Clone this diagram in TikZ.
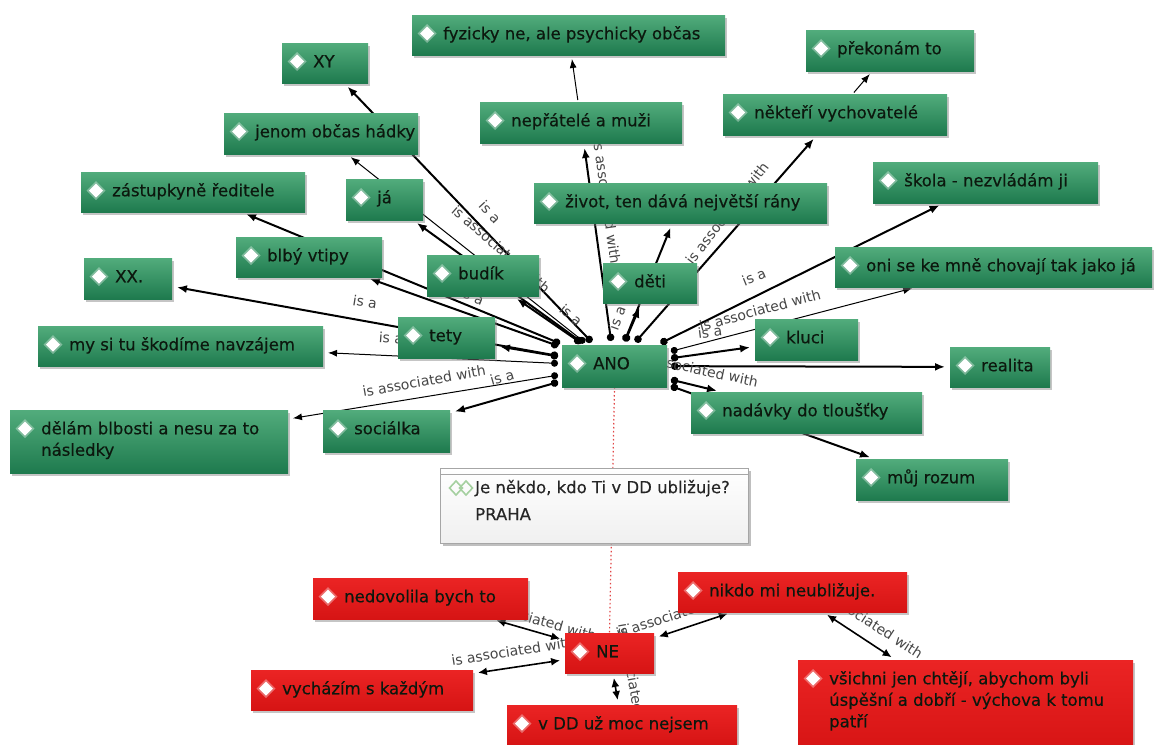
\documentclass[tikz,border=0pt]{standalone}
\usepackage{fontspec}
\setmainfont{DejaVu Sans}
\newfontfamily\boxfont[FakeBold=0.35]{DejaVu Sans}
\usetikzlibrary{arrows.meta,shadows}
\definecolor{gtop}{RGB}{82,172,124}
\definecolor{gbot}{RGB}{30,122,78}
\definecolor{rtop}{RGB}{235,36,36}
\definecolor{rbot}{RGB}{214,20,20}
\definecolor{boxtxt}{RGB}{12,24,14}
\definecolor{labgray}{RGB}{70,70,70}
\definecolor{dotred}{RGB}{225,70,70}
\definecolor{qgreen}{RGB}{165,208,160}
\pgfdeclarelayer{bg}
\pgfdeclarelayer{edges}
\pgfsetlayers{bg,edges,main}
\tikzset{
  boxbase/.style={rectangle, inner sep=0pt, outer sep=0pt,
    drop shadow={shadow xshift=1.5pt, shadow yshift=-2.5pt, opacity=0.45},
    path picture={
      \fill[white,opacity=0.35] ([shift={(15pt,-18.5pt)}]path picture bounding box.north west) +(-9.5pt,0) -- +(0,9.5pt) -- +(9.5pt,0) -- +(0,-9.5pt) -- cycle;
      \fill[white] ([shift={(15pt,-18.5pt)}]path picture bounding box.north west) +(-7pt,0) -- +(0,7pt) -- +(7pt,0) -- +(0,-7pt) -- cycle;
    }},
  gbox/.style={boxbase, top color=gtop, bottom color=gbot},
  rbox/.style={boxbase, top color=rtop, bottom color=rbot},
  txt/.style={anchor=north west, inner sep=0pt, xshift=31pt, yshift=-9pt, align=left,
    font=\boxfont\fontsize{16.5}{21.5}\selectfont, text=boxtxt},
  qbox/.style={rectangle, inner sep=0pt, outer sep=0pt, draw=black!35, line width=0.8pt,
    top color=white, bottom color=black!6,
    drop shadow={shadow xshift=2.5pt, shadow yshift=-3pt, opacity=0.5},
    path picture={
      \draw[black!35, line width=0.8pt] ([yshift=-6pt]path picture bounding box.north west) -- ([yshift=-6pt]path picture bounding box.north east);
      \draw[qgreen, line width=1.6pt] ([shift={(16pt,-20pt)}]path picture bounding box.north west) +(-6.5pt,0) -- +(0,7pt) -- +(6.5pt,0) -- +(0,-7pt) -- cycle;
      \draw[qgreen, line width=1.6pt] ([shift={(26pt,-20pt)}]path picture bounding box.north west) +(-6.5pt,0) -- +(0,7pt) -- +(6.5pt,0) -- +(0,-7pt) -- cycle;
    }},
  qtxt/.style={anchor=north west, inner sep=0pt, xshift=35pt, yshift=-6pt, align=left,
    font=\boxfont\fontsize{16.5}{27}\selectfont, text=black!85},
  lab/.style={inner sep=0pt, font=\fontsize{14}{16}\selectfont, text=labgray},
  isa/.style={line width=2pt, {Circle[length=7.5pt]}-{Latex[length=10pt,width=8pt]}, shorten <=4pt, shorten >=5pt},
  assoc/.style={line width=1pt, {Circle[length=7pt]}-{Latex[length=9pt,width=7pt]}, shorten <=4pt, shorten >=5pt},
  lnk/.style={line width=1pt, -{Latex[length=9pt,width=7pt]}, shorten <=2pt, shorten >=4pt},
  dbl/.style={line width=1.6pt, {Latex[length=9pt,width=8pt]}-{Latex[length=9pt,width=8pt]}, shorten <=5pt, shorten >=5pt},
}
\newcommand\mkbox[7]{\node[#1, minimum width=#5pt, minimum height=#6pt,
  label={[txt]north west:{\strut #7}}] (#2) at (#3,#4) {};}
\begin{document}
\begin{tikzpicture}[x=1pt,y=-1pt]
\useasboundingbox (0,0) rectangle (1156,744);
\begin{pgfonlayer}{bg}
\fill[white] (0,0) rectangle (1156,744);
\end{pgfonlayer}
% green nodes
\mkbox{gbox}{fyz}{568.5}{35}{313}{40}{fyzicky ne, ale psychicky občas}
\mkbox{gbox}{XY}{325}{63}{86}{40}{XY}
\mkbox{gbox}{jenom}{321}{133.5}{194}{41}{jenom občas hádky}
\mkbox{gbox}{zast}{193}{192}{224}{40}{zástupkyně ředitele}
\mkbox{gbox}{ja}{384.5}{199.5}{77}{41}{já}
\mkbox{gbox}{nepr}{581}{122.5}{202}{41}{nepřátelé a muži}
\mkbox{gbox}{vych}{835}{114.5}{224}{41}{někteří vychovatelé}
\mkbox{gbox}{prek}{890}{50.5}{168}{41}{překonám to}
\mkbox{gbox}{zivot}{680.5}{203}{293}{40}{život, ten dává největší rány}
\mkbox{gbox}{skola}{985.5}{182.5}{225}{41}{škola - nezvládám ji}
\mkbox{gbox}{blby}{309}{257}{146}{40}{blbý vtipy}
\mkbox{gbox}{budik}{483}{275.5}{112}{41}{budík}
\mkbox{gbox}{deti}{650}{283}{94}{40}{děti}
\mkbox{gbox}{oni}{993.5}{267}{317}{40}{oni se ke mně chovají tak jako já}
\mkbox{gbox}{XX}{128}{278.5}{88}{41}{XX.}
\mkbox{gbox}{mysi}{180.5}{346}{285}{40}{my si tu škodíme navzájem}
\mkbox{gbox}{tety}{446.5}{337.5}{97}{41}{tety}
\mkbox{gbox}{ANO}{614.5}{366}{105}{42}{ANO}
\mkbox{gbox}{kluci}{806.5}{339.5}{103}{41}{kluci}
\mkbox{gbox}{realita}{1000}{367}{100}{40}{realita}
\mkbox{gbox}{nadavky}{806.5}{412.5}{231}{41}{nadávky do tloušťky}
\mkbox{gbox}{muj}{932}{479.5}{152}{41}{můj rozum}
\mkbox{gbox}{delam}{149}{441.5}{278}{63}{dělám blbosti a nesu za to\\následky}
\mkbox{gbox}{social}{386.5}{431}{127}{42}{sociálka}
% question
\node[qbox, minimum width=308pt, minimum height=75pt,
  label={[qtxt]north west:{\strut Je někdo, kdo Ti v DD ubližuje?\\PRAHA}}] (Q) at (594,505.5) {};
% red nodes
\mkbox{rbox}{nedov}{420.5}{598.5}{215}{41}{nedovolila bych to}
\mkbox{rbox}{nikdo}{792.5}{592}{229}{40}{nikdo mi neubližuje.}
\mkbox{rbox}{NE}{609.5}{653}{89}{40}{NE}
\mkbox{rbox}{vyche}{362}{690}{222}{40}{vycházím s každým}
\mkbox{rbox}{vDD}{622}{725}{230}{40}{v DD už moc nejsem}
\mkbox{rbox}{vsichni}{965.5}{706}{335}{92}{všichni jen chtějí, abychom byli\\úspěšní a dobří - výchova k tomu\\patří}
\begin{pgfonlayer}{edges}
\draw[dotred, line width=1.2pt, dash pattern=on 1.5pt off 2.5pt] (ANO.south) -- (NE.north);
\draw[isa] (ANO) -- (XY);
\draw[assoc] (ANO) -- (jenom);
\draw[isa] (ANO) -- (ja);
\draw[isa] (ANO) -- (zast);
\draw[isa] (ANO) -- (blby);
\draw[isa] (ANO) -- (XX);
\draw[assoc] (ANO) -- (mysi);
\draw[isa] (ANO) -- (tety);
\draw[assoc] (ANO) -- (delam);
\draw[isa] (ANO) -- (social);
\draw[isa] (ANO) -- (budik);
\draw[isa] (ANO) -- (nepr);
\draw[isa] (ANO) -- (deti);
\draw[isa] (ANO) -- (zivot);
\draw[isa] (ANO) -- (vych);
\draw[isa] (ANO) -- (skola);
\draw[assoc] (ANO) -- (oni);
\draw[isa] (ANO) -- (kluci);
\draw[isa] (ANO) -- (realita);
\draw[isa] (ANO) -- (nadavky);
\draw[isa] (ANO) -- (muj);
\draw[lnk] (nepr) -- (fyz);
\draw[lnk] (vych) -- (prek);
\draw[dbl] (NE) -- (nedov);
\draw[dbl] (NE) -- (vyche);
\draw[dbl] (NE) -- (vDD);
\draw[dbl] (NE) -- (nikdo);
\draw[dbl] (nikdo) -- (vsichni);
% labels
\node[lab, rotate=-47] at (490,212) {is a};
\node[lab, rotate=-41] at (501,249) {is associated with};
\node[lab, rotate=-22] at (472,296) {is a};
\node[lab, rotate=-9] at (365,302) {is a};
\node[lab, rotate=-4] at (391,338) {is a};
\node[lab, rotate=10] at (424,381) {is associated with};
\node[lab, rotate=16] at (502,377) {is a};
\node[lab, rotate=-40] at (571,315) {is a};
\node[lab, rotate=-82] at (607,202) {is associated with};
\node[lab, rotate=70] at (617,318) {is a};
\node[lab, rotate=52] at (727,213) {is associated with};
\node[lab, rotate=22] at (754,277) {is a};
\node[lab, rotate=15] at (760,310) {is associated with};
\node[lab, rotate=7] at (710,332) {is a};
\node[lab, rotate=-12] at (697,369) {is associated with};
\node[lab, rotate=-16] at (536,619) {is associated with};
\node[lab, rotate=9] at (513,651) {is associated with};
\node[lab, rotate=-80] at (634,685) {is associated with};
\node[lab, rotate=18] at (676,614) {is associated with};
\node[lab, rotate=-33] at (869,621) {is associated with};
\end{pgfonlayer}
\end{tikzpicture}
\end{document}
